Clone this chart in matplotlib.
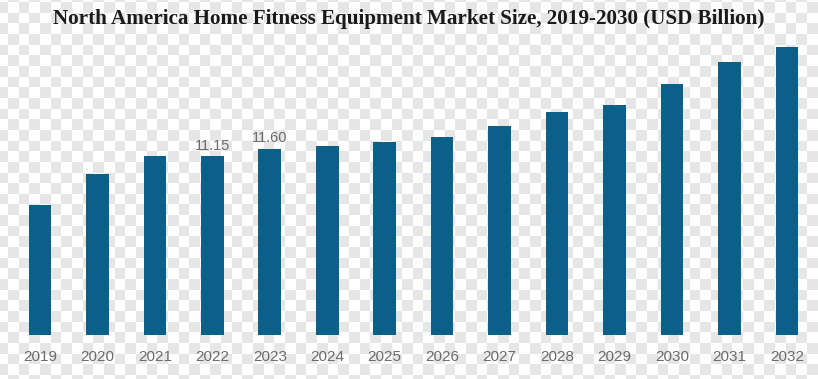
import numpy as np
import matplotlib
matplotlib.use("Agg")
import matplotlib.pyplot as plt

# data
years = ["2019", "2020", "2021", "2022", "2023", "2024", "2025",
         "2026", "2027", "2028", "2029", "2030", "2031", "2032"]
market_size = [8.10, 10.01, 11.15, 11.15, 11.60, 11.79, 12.01,
               12.32, 13.02, 13.91, 14.31, 15.66, 17.03, 17.96]
labelled = {"2022": "11.15", "2023": "11.60"}

title = "North America Home Fitness Equipment Market Size, 2019-2030 (USD Billion)"

W, H = 818, 379
fig = plt.figure(figsize=(W / 100, H / 100), dpi=100)
fig.patch.set_facecolor("white")

# checkerboard background (transparency pattern of the reference)
cell = 10.65
yy, xx = np.mgrid[0:H, 0:W]
cx = np.floor((xx + 3) / cell).astype(int)
cy = np.floor((yy + 9) / cell).astype(int)
board = np.where((cx + cy) % 2 == 0, 1.0, 0.905)
img = np.dstack([board, board, board])
fig.figimage(img, xo=0, yo=0, origin="upper", zorder=0)

ax = fig.add_axes([0, 44 / H, 1, 295 / H])
ax.set_zorder(2)
ax.set_facecolor("none")
x = np.arange(len(years))
bars = ax.bar(x, market_size, width=0.395, color="#0a6088", zorder=2)

for i, (yr, v) in enumerate(zip(years, market_size)):
    if yr in labelled:
        ax.text(i, v + 0.22, labelled[yr], ha="center", va="bottom",
                fontsize=10.5, color="#6b6b6b", family="Liberation Sans")

ax.set_xlim(-40 / 57.45, (W - 40) / 57.45)
ax.set_ylim(0, 295 / 16.05)
ax.set_xticks(x)
ax.set_xticklabels(years, fontsize=11, color="#6b6b6b", family="Liberation Sans")
ax.tick_params(axis="x", length=0, pad=11)
ax.set_yticks([])
for s in ax.spines.values():
    s.set_visible(False)

t = fig.text(0.5, 1 - 19 / H, title, ha="center", va="center", fontsize=15.2,
             fontweight="bold", family="Liberation Serif", color="#1a1a1a")
t.set_zorder(3)

fig.savefig("out.png", dpi=100)
